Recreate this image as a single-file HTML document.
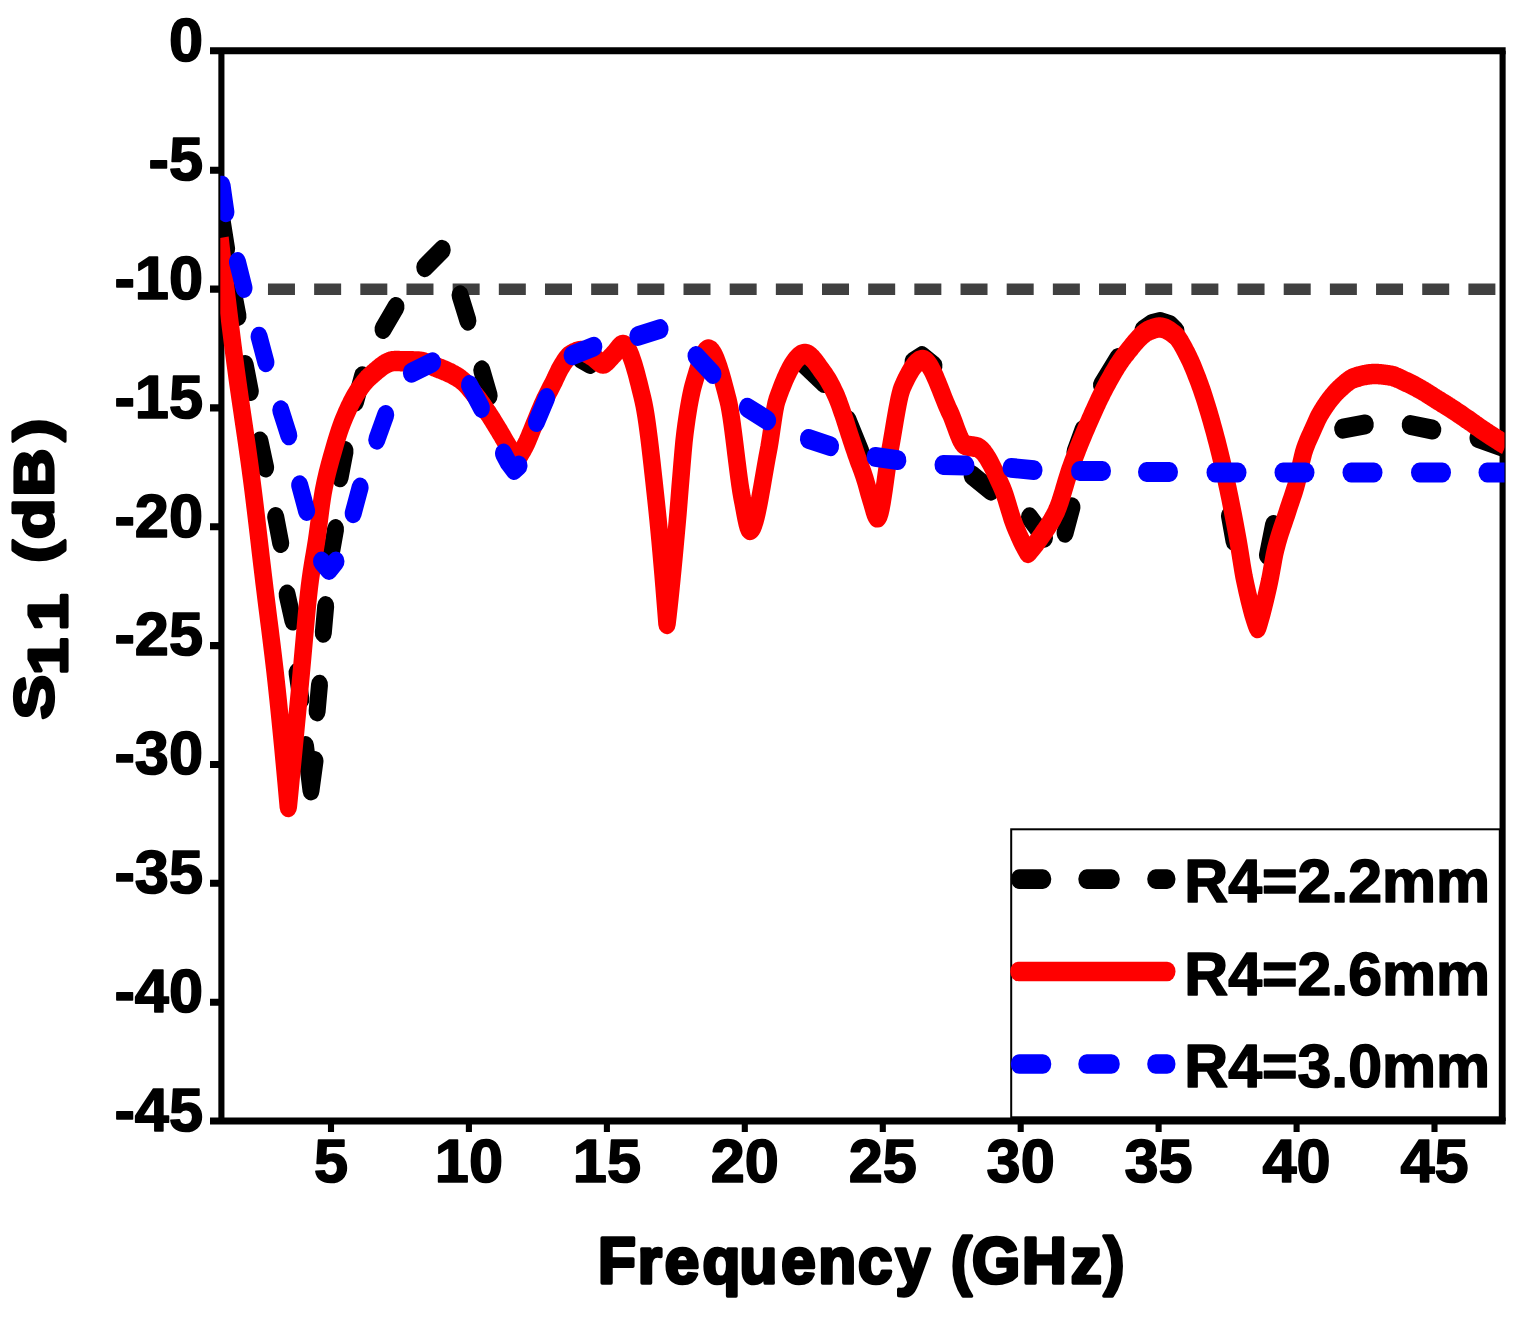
<!DOCTYPE html>
<html lang="en"><head><meta charset="utf-8"><title>S11 vs Frequency</title>
<style>html,body{margin:0;padding:0;background:#fff}body{width:1526px;height:1328px;overflow:hidden}svg{display:block}text{font-family:"Liberation Sans",sans-serif;font-weight:700;fill:#000}</style></head><body>
<svg width="1526" height="1328" viewBox="0 0 1526 1328" role="img" aria-label="S11 (dB) versus Frequency (GHz) for R4 = 2.2, 2.6 and 3.0 mm">
<rect width="1526" height="1328" fill="#fff"/>
<defs><clipPath id="plot"><rect x="220.3" y="50.8" width="1284.2" height="1070.2"/></clipPath></defs>
<g stroke="#000" fill="none">
<path d="M221.4,50.8 V1121.0 M1502.6,50.8 V1121.0" stroke-width="6.1"/>
<path d="M210,50.8 H1505.65 M210,1121.0 H1505.65" stroke-width="7.1"/>
<path d="M210,170.2 H221.4 M210,289.1 H221.4 M210,407.9 H221.4 M210,526.8 H221.4 M210,645.6 H221.4 M210,764.5 H221.4 M210,883.3 H221.4 M210,1002.2 H221.4" stroke-width="7.1"/>
<path d="M331.0,1121.0 V1132 M468.9,1121.0 V1132 M606.9,1121.0 V1132 M744.8,1121.0 V1132 M882.8,1121.0 V1132 M1020.7,1121.0 V1132 M1158.6,1121.0 V1132 M1296.6,1121.0 V1132 M1434.5,1121.0 V1132" stroke-width="6.1"/>
</g>
<g clip-path="url(#plot)">
<g transform="scale(1,1.17)" fill="none">
<path d="M221.8,247.18 H1500" stroke="#404040" stroke-width="9.83" stroke-dasharray="27 19.17"/>
<g stroke="#000" stroke-width="17" stroke-linecap="round" stroke-linejoin="round">
<path d="M222.4,190.0 L226.6,212.6"/>
<path d="M233.0,247.8 L238.0,270.2"/>
<path d="M245.2,311.9 L250.3,334.3"/>
<path d="M260.0,377.3 L265.6,399.6"/>
<path d="M275.7,441.8 L280.7,464.2"/>
<path d="M287.1,508.1 L292.9,530.4"/>
<path d="M297.1,575.0 L300.9,597.7"/>
<path d="M305.5,637.6 L311.0,675.6 L315.0,650.4"/>
<path d="M317.1,608.1 L319.5,585.2"/>
<path d="M323.3,540.9 L325.7,518.0"/>
<path d="M330.9,474.7 L335.6,452.2"/>
<path d="M340.1,408.0 L345.1,385.5"/>
<path d="M355.5,343.4 L362.5,321.5"/>
<path d="M383.0,281.3 L396.0,262.3"/>
<path d="M424.8,228.4 L442.2,213.5"/>
<path d="M460.1,252.4 L467.9,274.1"/>
<path d="M481.8,316.5 L489.2,338.2"/>
<path d="M848.0,359.0 L861.0,386.3"/>
<path d="M580.0,306.0 L590.0,311.1"/>
<path d="M802.0,309.4 L824.0,327.4"/>
<path d="M972.1,406.2 L990.9,419.4"/>
<path d="M1029.5,442.1 L1044.5,459.6"/>
<path d="M1065.1,455.4 L1071.9,433.5"/>
<path d="M1075.0,386.3 L1083.0,367.5"/>
<path d="M1101.5,329.1 L1118.0,306.0"/>
<path d="M913.0,309.4 L922.0,304.3 L934.0,312.8"/>
<path d="M1342.7,366.4 L1365.3,362.7"/>
<path d="M1410.2,363.2 L1432.8,367.2"/>
<path d="M1478.0,374.4 L1506.0,382.9"/>
<path d="M1143.0,282.1 L1152.0,276.9 L1160.0,275.2 L1170.0,277.8 L1176.0,282.9"/>
<path d="M1267.5,474.4 L1273.5,448.7"/>
<path d="M1229.5,441.0 L1234.0,462.4"/>
</g>
<path d="M220.0,203.4 L221.0,210.9 L222.0,218.4 L223.0,225.8 L224.0,233.2 L225.0,240.4 L226.0,247.7 L227.0,254.8 L228.0,261.9 L229.0,268.9 L230.0,275.8 L231.0,282.7 L232.0,289.5 L233.0,296.2 L234.0,302.8 L235.0,309.3 L236.0,315.6 L237.0,321.9 L238.0,328.0 L239.0,334.0 L240.0,339.9 L241.0,345.8 L242.0,351.6 L243.0,357.4 L244.0,363.2 L245.0,369.0 L246.0,374.9 L247.0,380.8 L248.0,386.8 L249.0,392.9 L250.0,399.1 L251.0,405.5 L252.0,412.0 L253.0,418.6 L254.0,425.5 L255.0,432.5 L256.0,439.5 L257.0,446.7 L258.0,454.0 L259.0,461.3 L260.0,468.6 L261.0,475.9 L262.0,483.1 L263.0,490.3 L264.0,497.4 L265.0,504.4 L266.0,511.3 L267.0,518.1 L268.0,524.9 L269.0,531.6 L270.0,538.3 L271.0,545.2 L272.0,552.1 L273.0,559.1 L274.0,566.3 L275.0,573.7 L276.0,581.3 L277.0,589.2 L278.0,597.3 L279.0,605.5 L280.0,613.9 L281.0,622.5 L282.0,631.2 L283.0,640.1 L284.0,649.2 L285.0,658.4 L286.0,667.7 L287.0,677.2 L288.0,686.8 L288.3,689.7 L289.3,681.0 L290.3,672.2 L291.3,663.3 L292.3,654.5 L293.3,645.7 L294.3,636.9 L295.3,628.1 L296.3,619.2 L297.3,610.4 L298.3,601.5 L299.3,592.7 L300.3,583.8 L301.3,574.7 L302.3,565.3 L303.3,555.7 L304.3,546.1 L305.3,536.5 L306.3,527.2 L307.3,518.3 L308.3,510.0 L309.3,502.3 L310.3,495.5 L311.3,489.5 L312.3,484.0 L313.3,478.9 L314.3,473.9 L315.3,468.9 L316.3,463.5 L317.3,457.7 L318.3,451.3 L319.3,444.6 L320.3,437.9 L321.3,431.4 L322.3,425.5 L323.3,420.2 L324.3,415.8 L325.3,411.7 L326.3,407.9 L327.3,404.3 L328.3,400.9 L329.3,397.6 L330.3,394.5 L331.3,391.4 L332.3,388.4 L333.3,385.4 L334.3,382.4 L335.3,379.4 L336.3,376.6 L337.3,373.8 L338.3,371.1 L339.3,368.5 L340.3,366.0 L341.3,363.6 L342.3,361.4 L343.3,359.2 L344.3,357.1 L345.3,355.1 L346.3,353.1 L347.3,351.2 L348.3,349.3 L349.3,347.5 L350.3,345.8 L351.3,344.0 L352.3,342.4 L353.3,340.8 L354.3,339.3 L355.3,337.8 L356.3,336.4 L357.3,335.1 L358.3,333.8 L359.3,332.5 L360.3,331.3 L361.3,330.1 L362.3,329.0 L363.3,327.8 L364.3,326.8 L365.3,325.7 L366.3,324.8 L367.3,323.8 L368.3,323.0 L369.3,322.1 L370.3,321.4 L371.3,320.6 L372.3,319.9 L373.3,319.1 L374.3,318.4 L375.3,317.6 L376.3,316.9 L377.3,316.2 L378.3,315.5 L379.3,314.8 L380.3,314.1 L381.3,313.4 L382.3,312.8 L383.3,312.2 L384.3,311.6 L385.3,311.1 L386.3,310.6 L387.3,310.2 L388.3,309.8 L389.3,309.5 L390.3,309.2 L391.3,308.9 L392.3,308.8 L393.3,308.7 L394.3,308.6 L395.3,308.6 L396.3,308.6 L397.3,308.6 L398.3,308.6 L399.3,308.6 L400.3,308.7 L401.3,308.7 L402.3,308.7 L403.3,308.7 L404.3,308.7 L405.3,308.7 L406.3,308.7 L407.3,308.7 L408.3,308.8 L409.3,308.8 L410.3,308.8 L411.3,308.8 L412.3,308.8 L413.3,308.9 L414.3,308.9 L415.3,308.9 L416.3,308.9 L417.3,309.0 L418.3,309.0 L419.3,309.1 L420.3,309.2 L421.3,309.3 L422.3,309.5 L423.3,309.7 L424.3,309.9 L425.3,310.2 L426.3,310.5 L427.3,310.8 L428.3,311.1 L429.3,311.4 L430.3,311.7 L431.3,312.1 L432.3,312.4 L433.3,312.8 L434.3,313.2 L435.3,313.5 L436.3,313.9 L437.3,314.2 L438.3,314.5 L439.3,314.9 L440.3,315.2 L441.3,315.5 L442.3,315.9 L443.3,316.2 L444.3,316.6 L445.3,316.9 L446.3,317.3 L447.3,317.7 L448.3,318.1 L449.3,318.5 L450.3,318.9 L451.3,319.3 L452.3,319.8 L453.3,320.2 L454.3,320.7 L455.3,321.2 L456.3,321.7 L457.3,322.2 L458.3,322.8 L459.3,323.3 L460.3,323.9 L461.3,324.6 L462.3,325.3 L463.3,326.0 L464.3,326.8 L465.3,327.7 L466.3,328.6 L467.3,329.6 L468.3,330.6 L469.3,331.6 L470.3,332.6 L471.3,333.6 L472.3,334.7 L473.3,335.8 L474.3,336.8 L475.3,337.9 L476.3,338.9 L477.3,340.0 L478.3,341.1 L479.3,342.3 L480.3,343.4 L481.3,344.6 L482.3,345.8 L483.3,347.0 L484.3,348.3 L485.3,349.5 L486.3,350.8 L487.3,352.1 L488.3,353.3 L489.3,354.6 L490.3,355.9 L491.3,357.3 L492.3,358.6 L493.3,360.0 L494.3,361.4 L495.3,362.8 L496.3,364.2 L497.3,365.6 L498.3,367.0 L499.3,368.4 L500.3,369.9 L501.3,371.3 L502.3,372.8 L503.3,374.2 L504.3,375.7 L505.3,377.2 L506.3,378.7 L507.3,380.1 L508.3,381.5 L509.3,382.9 L510.3,384.2 L511.3,385.5 L512.3,386.7 L513.3,388.0 L514.3,389.2 L515.3,390.4 L516.3,391.5 L517.0,392.3 L518.0,391.2 L519.0,389.9 L520.0,388.6 L521.0,387.3 L522.0,385.8 L523.0,384.4 L524.0,382.8 L525.0,381.2 L526.0,379.5 L527.0,377.7 L528.0,375.7 L529.0,373.7 L530.0,371.6 L531.0,369.5 L532.0,367.4 L533.0,365.3 L534.0,363.2 L535.0,361.2 L536.0,359.1 L537.0,357.0 L538.0,354.9 L539.0,352.8 L540.0,350.7 L541.0,348.7 L542.0,346.7 L543.0,344.8 L544.0,342.9 L545.0,341.1 L546.0,339.4 L547.0,337.7 L548.0,336.0 L549.0,334.3 L550.0,332.7 L551.0,331.0 L552.0,329.4 L553.0,327.7 L554.0,326.0 L555.0,324.2 L556.0,322.3 L557.0,320.5 L558.0,318.7 L559.0,316.9 L560.0,315.3 L561.0,313.8 L562.0,312.4 L563.0,311.0 L564.0,309.7 L565.0,308.4 L566.0,307.2 L567.0,306.1 L568.0,305.1 L569.0,304.3 L570.0,303.7 L571.0,303.2 L572.0,302.7 L573.0,302.2 L574.0,301.8 L575.0,301.4 L576.0,301.0 L577.0,300.7 L578.0,300.4 L579.0,300.2 L580.0,300.1 L581.0,300.0 L582.0,300.0 L583.0,300.2 L584.0,300.4 L585.0,300.8 L586.0,301.2 L587.0,301.7 L588.0,302.2 L589.0,302.7 L590.0,303.2 L591.0,303.8 L592.0,304.3 L593.0,304.8 L594.0,305.5 L595.0,306.2 L596.0,307.0 L597.0,307.8 L598.0,308.5 L599.0,309.2 L600.0,309.8 L601.0,310.3 L602.0,310.6 L603.0,310.7 L604.0,310.6 L605.0,310.2 L606.0,309.6 L607.0,308.9 L608.0,308.0 L609.0,307.1 L610.0,306.1 L611.0,305.2 L612.0,304.3 L613.0,303.4 L614.0,302.5 L615.0,301.5 L616.0,300.4 L617.0,299.3 L618.0,298.2 L619.0,297.1 L620.0,296.2 L621.0,295.5 L622.0,295.0 L623.0,294.9 L624.0,295.0 L625.0,295.5 L626.0,296.4 L627.0,297.5 L628.0,298.9 L629.0,300.5 L630.0,302.4 L631.0,304.5 L632.0,306.9 L633.0,309.4 L634.0,312.1 L635.0,315.0 L636.0,318.0 L637.0,321.2 L638.0,324.5 L639.0,327.8 L640.0,331.3 L641.0,334.8 L642.0,338.3 L643.0,341.9 L644.0,345.8 L645.0,350.4 L646.0,355.6 L647.0,361.4 L648.0,367.6 L649.0,374.2 L650.0,381.2 L651.0,388.5 L652.0,396.0 L653.0,403.8 L654.0,411.6 L655.0,419.5 L656.0,427.4 L657.0,435.4 L658.0,443.8 L659.0,452.6 L660.0,461.7 L661.0,471.1 L662.0,480.9 L663.0,490.9 L664.0,501.1 L665.0,511.7 L666.0,522.4 L667.0,533.3 L668.0,526.1 L669.0,518.5 L670.0,510.6 L671.0,502.4 L672.0,493.9 L673.0,485.1 L674.0,476.2 L675.0,467.0 L676.0,457.7 L677.0,448.2 L678.0,438.6 L679.0,428.1 L680.0,417.3 L681.0,407.1 L682.0,396.6 L683.0,386.5 L684.0,377.2 L685.0,369.7 L686.0,363.3 L687.0,357.4 L688.0,351.8 L689.0,346.7 L690.0,342.0 L691.0,337.7 L692.0,333.7 L693.0,330.3 L694.0,327.2 L695.0,324.3 L696.0,321.4 L697.0,318.6 L698.0,315.9 L699.0,313.2 L700.0,310.7 L701.0,308.3 L702.0,306.1 L703.0,304.2 L704.0,302.5 L705.0,301.1 L706.0,299.9 L707.0,299.2 L708.0,298.8 L709.0,298.8 L710.0,299.1 L711.0,299.7 L712.0,300.7 L713.0,301.9 L714.0,303.4 L715.0,305.2 L716.0,307.1 L717.0,309.3 L718.0,311.7 L719.0,314.2 L720.0,316.9 L721.0,319.7 L722.0,322.7 L723.0,325.7 L724.0,328.9 L725.0,332.1 L726.0,335.3 L727.0,338.6 L728.0,341.9 L729.0,345.6 L730.0,350.2 L731.0,355.5 L732.0,361.3 L733.0,367.7 L734.0,374.3 L735.0,381.2 L736.0,388.2 L737.0,395.1 L738.0,401.9 L739.0,408.4 L740.0,414.6 L741.0,420.2 L742.0,425.1 L743.0,429.5 L744.0,434.1 L745.0,438.7 L746.0,443.1 L747.0,447.0 L748.0,450.1 L749.0,452.2 L750.0,453.0 L751.0,452.6 L752.0,451.6 L753.0,450.0 L754.0,447.7 L755.0,445.0 L756.0,441.8 L757.0,438.2 L758.0,434.2 L759.0,430.0 L760.0,425.4 L761.0,420.7 L762.0,415.9 L763.0,410.9 L764.0,406.0 L765.0,401.0 L766.0,396.1 L767.0,391.4 L768.0,386.8 L769.0,382.3 L770.0,377.2 L771.0,371.6 L772.0,365.7 L773.0,359.8 L774.0,354.2 L775.0,349.2 L776.0,345.0 L777.0,341.9 L778.0,339.5 L779.0,337.1 L780.0,334.8 L781.0,332.5 L782.0,330.3 L783.0,328.2 L784.0,326.1 L785.0,324.1 L786.0,322.2 L787.0,320.3 L788.0,318.6 L789.0,316.8 L790.0,315.2 L791.0,313.7 L792.0,312.2 L793.0,310.9 L794.0,309.6 L795.0,308.4 L796.0,307.3 L797.0,306.4 L798.0,305.5 L799.0,304.7 L800.0,304.1 L801.0,303.5 L802.0,303.1 L803.0,302.8 L804.0,302.6 L805.0,302.6 L806.0,302.6 L807.0,302.9 L808.0,303.2 L809.0,303.7 L810.0,304.4 L811.0,305.1 L812.0,305.9 L813.0,306.8 L814.0,307.8 L815.0,308.8 L816.0,309.9 L817.0,311.1 L818.0,312.3 L819.0,313.5 L820.0,314.7 L821.0,315.9 L822.0,317.1 L823.0,318.2 L824.0,319.4 L825.0,320.6 L826.0,321.9 L827.0,323.2 L828.0,324.6 L829.0,326.1 L830.0,327.6 L831.0,329.2 L832.0,330.8 L833.0,332.5 L834.0,334.3 L835.0,336.1 L836.0,337.9 L837.0,339.9 L838.0,342.1 L839.0,344.3 L840.0,346.7 L841.0,349.1 L842.0,351.6 L843.0,354.1 L844.0,356.6 L845.0,359.2 L846.0,361.9 L847.0,364.6 L848.0,367.3 L849.0,370.0 L850.0,372.6 L851.0,375.2 L852.0,377.7 L853.0,380.3 L854.0,382.8 L855.0,385.4 L856.0,387.9 L857.0,390.3 L858.0,392.7 L859.0,395.1 L860.0,397.3 L861.0,399.6 L862.0,401.9 L863.0,404.3 L864.0,406.8 L865.0,409.5 L866.0,412.4 L867.0,415.4 L868.0,418.6 L869.0,421.7 L870.0,424.6 L871.0,427.4 L872.0,430.2 L873.0,433.2 L874.0,436.2 L875.0,438.9 L876.0,441.0 L877.0,442.1 L878.0,442.1 L879.0,440.7 L880.0,438.1 L881.0,434.4 L882.0,429.9 L883.0,424.7 L884.0,419.0 L885.0,412.9 L886.0,406.8 L887.0,400.7 L888.0,394.9 L889.0,389.4 L890.0,384.6 L891.0,380.0 L892.0,375.1 L893.0,370.1 L894.0,365.0 L895.0,359.9 L896.0,354.9 L897.0,350.1 L898.0,345.6 L899.0,341.4 L900.0,337.6 L901.0,334.4 L902.0,331.8 L903.0,329.8 L904.0,328.0 L905.0,326.1 L906.0,324.4 L907.0,322.6 L908.0,321.0 L909.0,319.4 L910.0,317.9 L911.0,316.5 L912.0,315.1 L913.0,313.9 L914.0,312.7 L915.0,311.6 L916.0,310.7 L917.0,309.9 L918.0,309.2 L919.0,308.6 L920.0,308.2 L921.0,307.9 L922.0,307.7 L923.0,307.7 L924.0,307.9 L925.0,308.4 L926.0,309.0 L927.0,309.8 L928.0,310.8 L929.0,312.0 L930.0,313.3 L931.0,314.7 L932.0,316.3 L933.0,318.0 L934.0,319.8 L935.0,321.7 L936.0,323.6 L937.0,325.7 L938.0,327.7 L939.0,329.9 L940.0,332.0 L941.0,334.2 L942.0,336.4 L943.0,338.5 L944.0,340.7 L945.0,342.8 L946.0,344.9 L947.0,346.9 L948.0,348.9 L949.0,350.8 L950.0,352.6 L951.0,354.4 L952.0,356.5 L953.0,358.7 L954.0,361.0 L955.0,363.3 L956.0,365.7 L957.0,368.0 L958.0,370.3 L959.0,372.4 L960.0,374.4 L961.0,376.2 L962.0,377.7 L963.0,378.9 L964.0,379.8 L965.0,380.3 L966.0,380.6 L967.0,380.8 L968.0,381.0 L969.0,381.2 L970.0,381.3 L971.0,381.4 L972.0,381.5 L973.0,381.6 L974.0,381.8 L975.0,381.9 L976.0,382.1 L977.0,382.3 L978.0,382.6 L979.0,383.1 L980.0,383.6 L981.0,384.3 L982.0,385.1 L983.0,386.0 L984.0,387.0 L985.0,388.2 L986.0,389.4 L987.0,390.7 L988.0,392.1 L989.0,393.6 L990.0,395.1 L991.0,396.7 L992.0,398.4 L993.0,400.1 L994.0,401.8 L995.0,403.6 L996.0,405.4 L997.0,407.3 L998.0,409.2 L999.0,411.0 L1000.0,412.9 L1001.0,414.8 L1002.0,416.7 L1003.0,418.7 L1004.0,420.9 L1005.0,423.4 L1006.0,426.0 L1007.0,428.8 L1008.0,431.6 L1009.0,434.5 L1010.0,437.3 L1011.0,440.1 L1012.0,442.8 L1013.0,445.3 L1014.0,447.6 L1015.0,449.8 L1016.0,451.8 L1017.0,453.8 L1018.0,455.8 L1019.0,457.8 L1020.0,459.6 L1021.0,461.5 L1022.0,463.3 L1023.0,465.0 L1024.0,466.6 L1025.0,468.2 L1026.0,469.8 L1027.0,471.3 L1028.0,472.6 L1029.0,471.7 L1030.0,470.7 L1031.0,469.7 L1032.0,468.7 L1033.0,467.6 L1034.0,466.6 L1035.0,465.5 L1036.0,464.4 L1037.0,463.2 L1038.0,462.1 L1039.0,460.9 L1040.0,459.7 L1041.0,458.5 L1042.0,457.3 L1043.0,456.0 L1044.0,454.8 L1045.0,453.6 L1046.0,452.3 L1047.0,451.1 L1048.0,449.8 L1049.0,448.4 L1050.0,447.1 L1051.0,445.7 L1052.0,444.2 L1053.0,442.7 L1054.0,441.1 L1055.0,439.4 L1056.0,437.7 L1057.0,435.8 L1058.0,433.7 L1059.0,431.4 L1060.0,429.0 L1061.0,426.3 L1062.0,423.6 L1063.0,420.8 L1064.0,417.9 L1065.0,415.0 L1066.0,412.1 L1067.0,409.3 L1068.0,406.6 L1069.0,403.9 L1070.0,401.4 L1071.0,399.0 L1072.0,396.7 L1073.0,394.4 L1074.0,392.1 L1075.0,389.8 L1076.0,387.6 L1077.0,385.4 L1078.0,383.2 L1079.0,381.1 L1080.0,378.9 L1081.0,376.8 L1082.0,374.8 L1083.0,372.7 L1084.0,370.6 L1085.0,368.6 L1086.0,366.6 L1087.0,364.6 L1088.0,362.6 L1089.0,360.7 L1090.0,358.7 L1091.0,356.8 L1092.0,354.8 L1093.0,352.9 L1094.0,351.0 L1095.0,349.1 L1096.0,347.2 L1097.0,345.4 L1098.0,343.5 L1099.0,341.7 L1100.0,339.9 L1101.0,338.2 L1102.0,336.5 L1103.0,334.7 L1104.0,333.1 L1105.0,331.4 L1106.0,329.8 L1107.0,328.2 L1108.0,326.7 L1109.0,325.1 L1110.0,323.6 L1111.0,322.1 L1112.0,320.5 L1113.0,319.0 L1114.0,317.6 L1115.0,316.1 L1116.0,314.7 L1117.0,313.3 L1118.0,311.9 L1119.0,310.6 L1120.0,309.3 L1121.0,308.1 L1122.0,306.8 L1123.0,305.6 L1124.0,304.5 L1125.0,303.4 L1126.0,302.3 L1127.0,301.3 L1128.0,300.2 L1129.0,299.1 L1130.0,298.0 L1131.0,297.0 L1132.0,295.9 L1133.0,294.8 L1134.0,293.8 L1135.0,292.8 L1136.0,291.8 L1137.0,290.9 L1138.0,289.9 L1139.0,289.0 L1140.0,288.1 L1141.0,287.3 L1142.0,286.5 L1143.0,285.8 L1144.0,285.1 L1145.0,284.4 L1146.0,283.8 L1147.0,283.3 L1148.0,282.8 L1149.0,282.4 L1150.0,282.1 L1151.0,281.7 L1152.0,281.4 L1153.0,281.1 L1154.0,280.8 L1155.0,280.6 L1156.0,280.4 L1157.0,280.2 L1158.0,280.0 L1159.0,279.9 L1160.0,279.9 L1161.0,280.0 L1162.0,280.1 L1163.0,280.3 L1164.0,280.5 L1165.0,280.8 L1166.0,281.2 L1167.0,281.6 L1168.0,282.1 L1169.0,282.6 L1170.0,283.2 L1171.0,283.8 L1172.0,284.4 L1173.0,285.0 L1174.0,285.7 L1175.0,286.3 L1176.0,287.1 L1177.0,288.0 L1178.0,289.1 L1179.0,290.3 L1180.0,291.6 L1181.0,293.0 L1182.0,294.5 L1183.0,296.0 L1184.0,297.6 L1185.0,299.3 L1186.0,300.9 L1187.0,302.6 L1188.0,304.2 L1189.0,306.0 L1190.0,307.8 L1191.0,309.6 L1192.0,311.6 L1193.0,313.6 L1194.0,315.7 L1195.0,317.8 L1196.0,320.0 L1197.0,322.2 L1198.0,324.4 L1199.0,326.7 L1200.0,329.1 L1201.0,331.4 L1202.0,333.9 L1203.0,336.4 L1204.0,339.0 L1205.0,341.7 L1206.0,344.4 L1207.0,347.2 L1208.0,350.0 L1209.0,352.8 L1210.0,355.8 L1211.0,358.7 L1212.0,361.7 L1213.0,364.8 L1214.0,367.9 L1215.0,371.0 L1216.0,374.3 L1217.0,377.5 L1218.0,380.9 L1219.0,384.3 L1220.0,387.7 L1221.0,391.3 L1222.0,394.9 L1223.0,398.5 L1224.0,402.2 L1225.0,406.0 L1226.0,409.8 L1227.0,413.8 L1228.0,417.8 L1229.0,421.9 L1230.0,426.0 L1231.0,430.3 L1232.0,434.6 L1233.0,439.0 L1234.0,443.4 L1235.0,447.9 L1236.0,452.5 L1237.0,457.1 L1238.0,461.8 L1239.0,466.8 L1240.0,472.1 L1241.0,477.5 L1242.0,482.9 L1243.0,488.0 L1244.0,492.8 L1245.0,497.0 L1246.0,500.9 L1247.0,504.8 L1248.0,508.5 L1249.0,512.1 L1250.0,515.6 L1251.0,519.0 L1252.0,522.2 L1253.0,525.3 L1254.0,528.1 L1255.0,530.8 L1256.0,533.3 L1257.0,535.5 L1257.6,536.8 L1258.6,534.1 L1259.6,531.3 L1260.6,528.3 L1261.6,525.2 L1262.6,522.0 L1263.6,518.7 L1264.6,515.2 L1265.6,511.7 L1266.6,508.0 L1267.6,504.3 L1268.6,500.5 L1269.6,496.6 L1270.6,492.3 L1271.6,487.6 L1272.6,482.8 L1273.6,478.0 L1274.6,473.5 L1275.6,469.7 L1276.6,466.4 L1277.6,463.2 L1278.6,460.2 L1279.6,457.4 L1280.6,454.7 L1281.6,452.1 L1282.6,449.6 L1283.6,447.1 L1284.6,444.6 L1285.6,442.1 L1286.6,439.6 L1287.6,437.0 L1288.6,434.3 L1289.6,431.7 L1290.6,429.2 L1291.6,426.7 L1292.6,424.2 L1293.6,421.6 L1294.6,418.9 L1295.6,416.1 L1296.6,413.0 L1297.6,409.5 L1298.6,405.7 L1299.6,401.7 L1300.6,397.7 L1301.6,393.7 L1302.6,390.1 L1303.6,386.8 L1304.6,384.1 L1305.6,381.6 L1306.6,379.4 L1307.6,377.3 L1308.6,375.3 L1309.6,373.4 L1310.6,371.5 L1311.6,369.7 L1312.6,367.8 L1313.6,365.9 L1314.6,363.9 L1315.6,362.0 L1316.6,360.1 L1317.6,358.2 L1318.6,356.4 L1319.6,354.8 L1320.6,353.3 L1321.6,351.9 L1322.6,350.5 L1323.6,349.1 L1324.6,347.8 L1325.6,346.6 L1326.6,345.3 L1327.6,344.1 L1328.6,342.9 L1329.6,341.8 L1330.6,340.7 L1331.6,339.6 L1332.6,338.6 L1333.6,337.6 L1334.6,336.6 L1335.6,335.6 L1336.6,334.7 L1337.6,333.9 L1338.6,333.0 L1339.6,332.2 L1340.6,331.4 L1341.6,330.7 L1342.6,329.9 L1343.6,329.1 L1344.6,328.4 L1345.6,327.6 L1346.6,326.9 L1347.6,326.3 L1348.6,325.6 L1349.6,325.0 L1350.6,324.5 L1351.6,324.0 L1352.6,323.5 L1353.6,323.2 L1354.6,322.8 L1355.6,322.6 L1356.6,322.3 L1357.6,322.1 L1358.6,321.9 L1359.6,321.6 L1360.6,321.4 L1361.6,321.2 L1362.6,321.0 L1363.6,320.8 L1364.6,320.6 L1365.6,320.5 L1366.6,320.3 L1367.6,320.2 L1368.6,320.0 L1369.6,319.9 L1370.6,319.8 L1371.6,319.8 L1372.6,319.7 L1373.6,319.7 L1374.6,319.7 L1375.6,319.7 L1376.6,319.7 L1377.6,319.7 L1378.6,319.8 L1379.6,319.8 L1380.6,319.9 L1381.6,320.0 L1382.6,320.1 L1383.6,320.2 L1384.6,320.3 L1385.6,320.4 L1386.6,320.5 L1387.6,320.6 L1388.6,320.8 L1389.6,320.9 L1390.6,321.0 L1391.6,321.2 L1392.6,321.4 L1393.6,321.7 L1394.6,321.9 L1395.6,322.3 L1396.6,322.6 L1397.6,323.0 L1398.6,323.3 L1399.6,323.7 L1400.6,324.1 L1401.6,324.5 L1402.6,325.0 L1403.6,325.4 L1404.6,325.8 L1405.6,326.2 L1406.6,326.6 L1407.6,327.0 L1408.6,327.4 L1409.6,327.8 L1410.6,328.2 L1411.6,328.6 L1412.6,329.1 L1413.6,329.5 L1414.6,330.0 L1415.6,330.4 L1416.6,330.9 L1417.6,331.4 L1418.6,331.8 L1419.6,332.3 L1420.6,332.8 L1421.6,333.3 L1422.6,333.8 L1423.6,334.3 L1424.6,334.8 L1425.6,335.3 L1426.6,335.9 L1427.6,336.4 L1428.6,336.9 L1429.6,337.5 L1430.6,338.0 L1431.6,338.6 L1432.6,339.1 L1433.6,339.7 L1434.6,340.2 L1435.6,340.8 L1436.6,341.3 L1437.6,341.9 L1438.6,342.4 L1439.6,342.9 L1440.6,343.4 L1441.6,344.0 L1442.6,344.5 L1443.6,345.0 L1444.6,345.5 L1445.6,346.1 L1446.6,346.6 L1447.6,347.1 L1448.6,347.7 L1449.6,348.2 L1450.6,348.8 L1451.6,349.3 L1452.6,349.9 L1453.6,350.4 L1454.6,351.0 L1455.6,351.5 L1456.6,352.1 L1457.6,352.7 L1458.6,353.3 L1459.6,353.8 L1460.6,354.4 L1461.6,355.0 L1462.6,355.6 L1463.6,356.2 L1464.6,356.8 L1465.6,357.4 L1466.6,358.0 L1467.6,358.5 L1468.6,359.1 L1469.6,359.7 L1470.6,360.3 L1471.6,360.9 L1472.6,361.5 L1473.6,362.1 L1474.6,362.7 L1475.6,363.4 L1476.6,364.0 L1477.6,364.6 L1478.6,365.2 L1479.6,365.8 L1480.6,366.4 L1481.6,367.0 L1482.6,367.5 L1483.6,368.1 L1484.6,368.7 L1485.6,369.3 L1486.6,369.8 L1487.6,370.4 L1488.6,371.0 L1489.6,371.5 L1490.6,372.1 L1491.6,372.6 L1492.6,373.2 L1493.6,373.8 L1494.6,374.3 L1495.6,374.8 L1496.6,375.4 L1497.6,375.9 L1498.6,376.5 L1499.6,377.0 L1500.6,377.5 L1501.6,378.1 L1502.6,378.6 L1503.6,379.1 L1504.6,379.6 L1505.6,380.1 L1506.0,380.3" stroke="#ff0000" stroke-width="17.5" stroke-linejoin="round" stroke-linecap="butt"/>
<g stroke="#0000ff" stroke-width="17" stroke-linecap="round" stroke-linejoin="round">
<path d="M222.1,158.7 L225.9,181.4"/>
<path d="M237.5,224.0 L244.0,246.1"/>
<path d="M259.1,287.7 L265.9,309.6"/>
<path d="M280.8,350.6 L288.8,372.1"/>
<path d="M299.7,414.7 L306.6,436.7"/>
<path d="M321.5,479.9 L329.0,487.2 L336.0,479.9"/>
<path d="M353.2,438.7 L360.1,416.7"/>
<path d="M376.8,375.8 L385.7,354.6"/>
<path d="M411.4,318.6 L432.6,309.6"/>
<path d="M469.5,329.1 L481.5,348.7"/>
<path d="M503.5,387.6 L508.0,394.9 L514.0,401.7 L519.0,397.9"/>
<path d="M536.4,360.7 L546.6,340.1"/>
<path d="M572.1,303.7 L593.9,296.3"/>
<path d="M637.9,287.2 L660.1,281.2"/>
<path d="M696.0,304.2 L713.0,319.7"/>
<path d="M747.4,348.4 L767.6,359.3"/>
<path d="M808.4,375.1 L830.6,381.4"/>
<path d="M875.1,390.5 L897.9,393.3"/>
<path d="M943.0,397.4 L966.0,397.9"/>
<path d="M1011.0,399.9 L1034.0,401.8"/>
<path d="M1079.5,402.6 L1102.5,402.6"/>
<path d="M1146.5,403.4 L1169.5,403.4"/>
<path d="M1215.0,403.8 L1238.0,403.8"/>
<path d="M1283.0,403.8 L1306.0,403.8"/>
<path d="M1351.0,403.8 L1374.0,403.8"/>
<path d="M1419.5,403.8 L1442.5,403.8"/>
<path d="M1487.0,403.8 L1510.0,403.8"/>
</g>
</g></g>
<rect x="1011.2" y="829.3" width="488.6" height="288" fill="#fff" stroke="#000" stroke-width="2"/>
<g transform="scale(1,1.17)" fill="none" stroke-width="16.8" stroke-linecap="round">
<path d="M1019.2,751.37 H1042.9 M1086.7,751.37 H1111.4 M1155.6,751.37 H1167.1" stroke="#000"/>
<path d="M1019.2,909.40 H1042.9 M1086.7,909.40 H1111.4 M1155.6,909.40 H1167.1" stroke="#0000ff"/>
<path d="M1018.6,830.34 H1167.1" stroke="#ff0000"/>
</g>
<g font-size="60.8" stroke="#000" stroke-width="1.6" stroke-linejoin="round">
<text x="1184.3" y="902.4">R4=2.2mm</text>
<text x="1184.3" y="994.9">R4=2.6mm</text>
<text x="1184.3" y="1087.4">R4=3.0mm</text>
</g>
<g font-size="61.3" stroke="#000" stroke-width="1.6" stroke-linejoin="round">
<text x="203.0" y="61.1" text-anchor="end">0</text>
<text x="203.0" y="179.9" text-anchor="end">-5</text>
<text x="203.0" y="298.8" text-anchor="end">-10</text>
<text x="203.0" y="417.6" text-anchor="end">-15</text>
<text x="203.0" y="536.5" text-anchor="end">-20</text>
<text x="203.0" y="655.4" text-anchor="end">-25</text>
<text x="203.0" y="774.2" text-anchor="end">-30</text>
<text x="203.0" y="893.0" text-anchor="end">-35</text>
<text x="203.0" y="1011.9" text-anchor="end">-40</text>
<text x="203.0" y="1130.8" text-anchor="end">-45</text>
<text x="331.0" y="1182.3" text-anchor="middle">5</text>
<text x="468.9" y="1182.3" text-anchor="middle">10</text>
<text x="606.9" y="1182.3" text-anchor="middle">15</text>
<text x="744.8" y="1182.3" text-anchor="middle">20</text>
<text x="882.8" y="1182.3" text-anchor="middle">25</text>
<text x="1020.7" y="1182.3" text-anchor="middle">30</text>
<text x="1158.6" y="1182.3" text-anchor="middle">35</text>
<text x="1296.6" y="1182.3" text-anchor="middle">40</text>
<text x="1434.5" y="1182.3" text-anchor="middle">45</text>
</g>
<g transform="translate(0,1283.4) scale(1.0,1.055)"><text x="598.1 637.8 664.8 702.6 739.6 781.3 818.2 857.9 895.4 929.9 951.0 971.9 1022.1 1070.7 1103.8" y="0" font-size="62" stroke="#000" stroke-width="3.4" stroke-linejoin="round">Frequency (GHz)</text></g>
<g transform="translate(52.8,719) rotate(-90) scale(1.2,1.0)"><text y="0" font-size="55.2" stroke="#000" stroke-width="3.2" stroke-linejoin="round"><tspan x="-0.3">S</tspan><tspan x="36.7 73.5" dy="14.5">11</tspan><tspan x="104.2 130.3 150.0 185.4 231.7" dy="-14.5"> (dB)</tspan></text></g>
</svg></body></html>
